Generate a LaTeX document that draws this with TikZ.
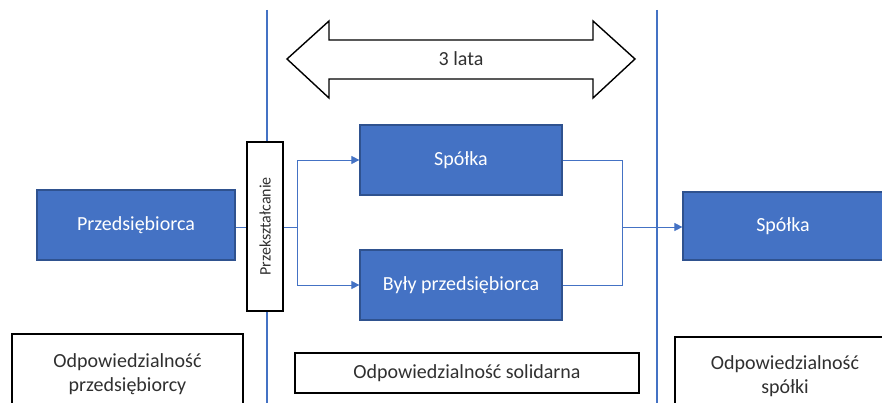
\documentclass[tikz,border=0pt]{standalone}
\usepackage{fontspec}
\setmainfont{Carlito}
\usetikzlibrary{arrows.meta,calc}
\definecolor{accent}{HTML}{4472C4}
\definecolor{accentdark}{HTML}{2F528F}
\definecolor{txt}{HTML}{303030}
\tikzset{
  bluebox/.style={draw=accentdark, line width=1.2pt, fill=accent, text=white, font=\fontsize{20}{24}\selectfont, inner sep=0pt},
  whitebox/.style={draw=black, line width=1.2pt, fill=white, text=txt, font=\fontsize{20}{24}\selectfont, align=center, inner sep=0pt},
  conn/.style={draw=accent, line width=0.8pt},
  arr/.style={conn, -{Triangle[length=8pt,width=8pt]}},
  divider/.style={draw=accent, line width=1.6pt},
}
\begin{document}
\begin{tikzpicture}[x=1pt,y=-1pt]
\useasboundingbox (0,0) rectangle (882,403);
% dividers
\coordinate (d1t) at (267,10); \coordinate (d1b) at (267,403);
\coordinate (d2t) at (657,10); \coordinate (d2b) at (657,403);
\draw[divider] (d1t) -- (d1b);
\draw[divider] (d2t) -- (d2b);
% double arrow
\draw[line width=1.4pt, fill=white] (287,59) -- (329,21) -- (329,40) -- (593,40) -- (593,21) -- (635,59) -- (593,98) -- (593,79) -- (329,79) -- (329,98) -- cycle;
\node[text=txt, font=\fontsize{20}{24}\selectfont] (lata) at (461,59) {3 lata};
% boxes
\node[bluebox, minimum width=198pt, minimum height=70pt] (prz) at (136,225) {Przedsiębiorca};
\node[whitebox, minimum width=169pt, minimum height=36pt, rotate=90, font=\fontsize{16}{18}\selectfont] (pk) at (265,226.5) {Przekształcanie};
\node[bluebox, minimum width=202pt, minimum height=70pt] (sp1) at (461,160) {Spółka};
\node[bluebox, minimum width=202pt, minimum height=70pt] (byl) at (461,285) {Były przedsiębiorca};
\node[bluebox, minimum width=200pt, minimum height=68pt] (sp2) at (783,226) {Spółka};
% connectors
\coordinate (j1) at (297,227);
\coordinate (j2) at (622,227);
\draw[conn] (prz.east |- 0,227) -- (pk.north |- 0,227);
\draw[conn] (pk.south |- 0,227) -- (j1);
\draw[arr] (j1) |- (sp1.west);
\draw[arr] (j1) |- (byl.west);
\draw[conn] (sp1.east) -| (j2);
\draw[conn] (byl.east) -| (j2);
\draw[arr] (j2) -- (sp2.west |- j2);
% bottom boxes
\node[whitebox, minimum width=231pt, minimum height=80pt] (b1) at (127.5,374) {Odpowiedzialność\\przedsiębiorcy};
\node[whitebox, minimum width=344pt, minimum height=40pt] (b2) at (467,373) {Odpowiedzialność solidarna};
\node[whitebox, minimum width=220pt, minimum height=78pt, text width=210pt] (b3) at (785,376) {Odpowiedzialność\\spółki};
\end{tikzpicture}
\end{document}
